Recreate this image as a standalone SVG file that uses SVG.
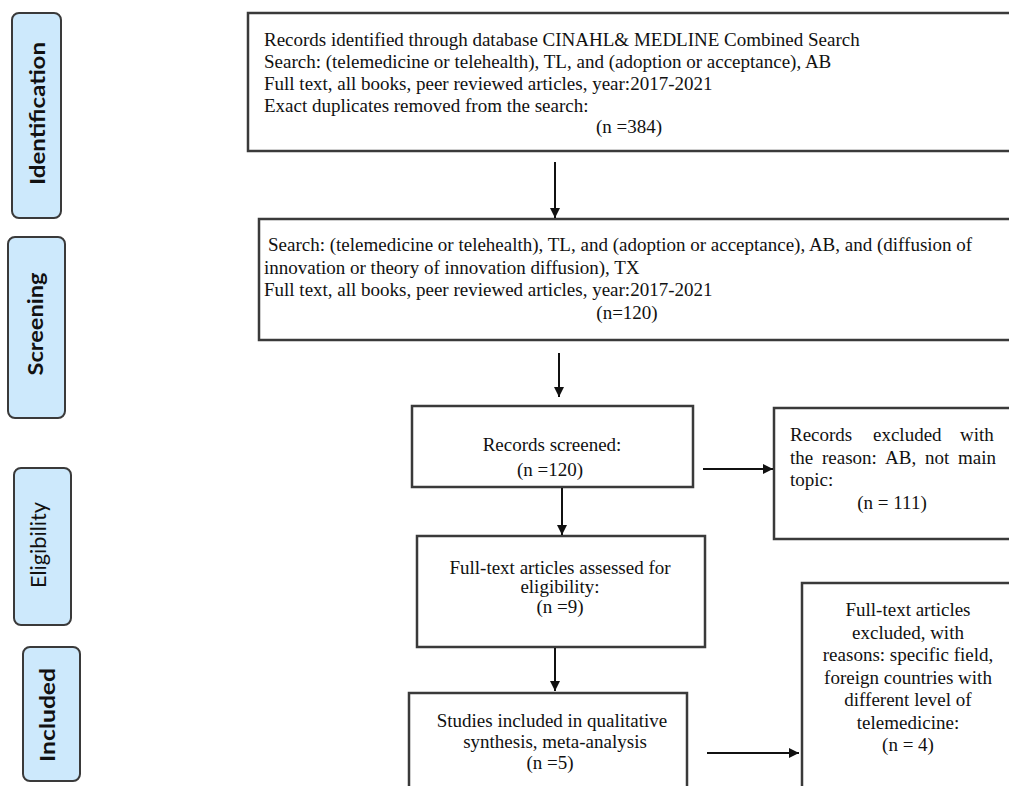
<svg xmlns="http://www.w3.org/2000/svg" width="1009" height="786" viewBox="0 0 1009 786">
<style>
.phase{fill:#cde9fc;stroke:#3a3a3a;stroke-width:2}
.pl{font-family:Lato,"Liberation Sans",sans-serif;font-size:21px;font-weight:bold;fill:#111;text-anchor:middle}
.box{fill:#fff;stroke:#3a3a3a;stroke-width:2.5}
.t{font-family:"Liberation Serif","Times New Roman",serif;font-size:19px;fill:#111}
.c{text-anchor:middle}
.conn{stroke:#111;stroke-width:2;fill:none;marker-end:url(#ah)}
</style>
<defs>
<marker id="ah" viewBox="0 0 10 10" refX="10" refY="5" markerWidth="11" markerHeight="10" markerUnits="userSpaceOnUse" orient="auto"><path d="M0,0 L10,5 L0,10 z" fill="#111"/></marker>
</defs>
<rect width="1009" height="786" fill="#fff"/>
<g id="phase-identification"><rect class="phase" x="12" y="13" width="49" height="205" rx="7"/><text class="pl" transform="translate(45,113.5) rotate(-90)" textLength="143" lengthAdjust="spacingAndGlyphs">Identification</text></g>
<g id="phase-screening"><rect class="phase" x="8" y="237" width="57" height="181" rx="7"/><text class="pl" transform="translate(43,324) rotate(-90)" textLength="103" lengthAdjust="spacingAndGlyphs">Screening</text></g>
<g id="phase-eligibility"><rect class="phase" x="14" y="468" width="57" height="157" rx="7"/><text class="pl" style="font-weight:normal" transform="translate(46,545) rotate(-90)" textLength="86" lengthAdjust="spacingAndGlyphs">Eligibility</text></g>
<g id="phase-included"><rect class="phase" x="23" y="647" width="57" height="134" rx="7"/><text class="pl" transform="translate(55,715) rotate(-90)" textLength="94" lengthAdjust="spacingAndGlyphs">Included</text></g>
<g id="records-identified"><rect class="box" x="248" y="13" width="780" height="138"/>
<text class="t" x="264" y="46">Records identified through database CINAHL&amp; MEDLINE Combined Search</text>
<text class="t" x="264" y="68">Search: (telemedicine or telehealth), TL, and (adoption or acceptance), AB</text>
<text class="t" x="264" y="90">Full text, all books, peer reviewed articles, year:2017-2021</text>
<text class="t" x="264" y="112">Exact duplicates removed from the search:</text>
<text class="t c" x="629" y="133">(n =384)</text></g>
<g id="search-2"><rect class="box" x="259" y="219" width="780" height="121"/>
<text class="t" x="268" y="251">Search: (telemedicine or telehealth), TL, and (adoption or acceptance), AB, and (diffusion of</text>
<text class="t" x="264" y="273.5">innovation or theory of innovation diffusion), TX</text>
<text class="t" x="264" y="296">Full text, all books, peer reviewed articles, year:2017-2021</text>
<text class="t c" x="627" y="318.5">(n=120)</text></g>
<g id="records-screened"><rect class="box" x="412" y="406" width="281" height="81"/>
<text class="t c" x="552" y="451">Records screened:</text>
<text class="t c" x="550" y="476">(n =120)</text></g>
<g id="records-excluded"><rect class="box" x="774" y="408" width="260" height="131"/>
<text class="t" y="441"><tspan x="790">Records</tspan><tspan x="873">excluded</tspan><tspan x="960">with</tspan></text>
<text class="t" y="463.5"><tspan x="790">the</tspan><tspan x="822">reason:</tspan><tspan x="885">AB,</tspan><tspan x="925">not</tspan><tspan x="958">main</tspan></text>
<text class="t" x="790" y="486">topic:</text>
<text class="t c" x="892" y="509">(n = 111)</text></g>
<g id="fulltext-assessed"><rect class="box" x="417" y="536" width="288" height="111"/>
<text class="t c" x="560" y="574">Full-text articles assessed for</text>
<text class="t c" x="560" y="593">eligibility:</text>
<text class="t c" x="560" y="613">(n =9)</text></g>
<g id="studies-included"><rect class="box" x="409" y="693" width="278" height="110"/>
<text class="t c" x="552" y="727">Studies included in qualitative</text>
<text class="t c" x="555" y="748">synthesis, meta-analysis</text>
<text class="t c" x="550" y="769">(n =5)</text></g>
<g id="fulltext-excluded"><rect class="box" x="802" y="583" width="240" height="220"/>
<text class="t c" x="908" y="616">Full-text articles</text>
<text class="t c" x="908" y="638.5">excluded, with</text>
<text class="t c" x="908" y="661">reasons: specific field,</text>
<text class="t c" x="908" y="683.5">foreign countries with</text>
<text class="t c" x="908" y="706">different level of</text>
<text class="t c" x="908" y="728.5">telemedicine:</text>
<text class="t c" x="908" y="751">(n = 4)</text></g>
<g id="connectors">
<line class="conn" x1="555" y1="162" x2="555" y2="218"/>
<line class="conn" x1="559" y1="353" x2="559" y2="397"/>
<line class="conn" x1="562" y1="488" x2="562" y2="535"/>
<line class="conn" x1="703" y1="469" x2="773" y2="469"/>
<line class="conn" x1="555" y1="648" x2="555" y2="691"/>
<line class="conn" x1="707" y1="753" x2="799" y2="753"/>
</g>
</svg>
